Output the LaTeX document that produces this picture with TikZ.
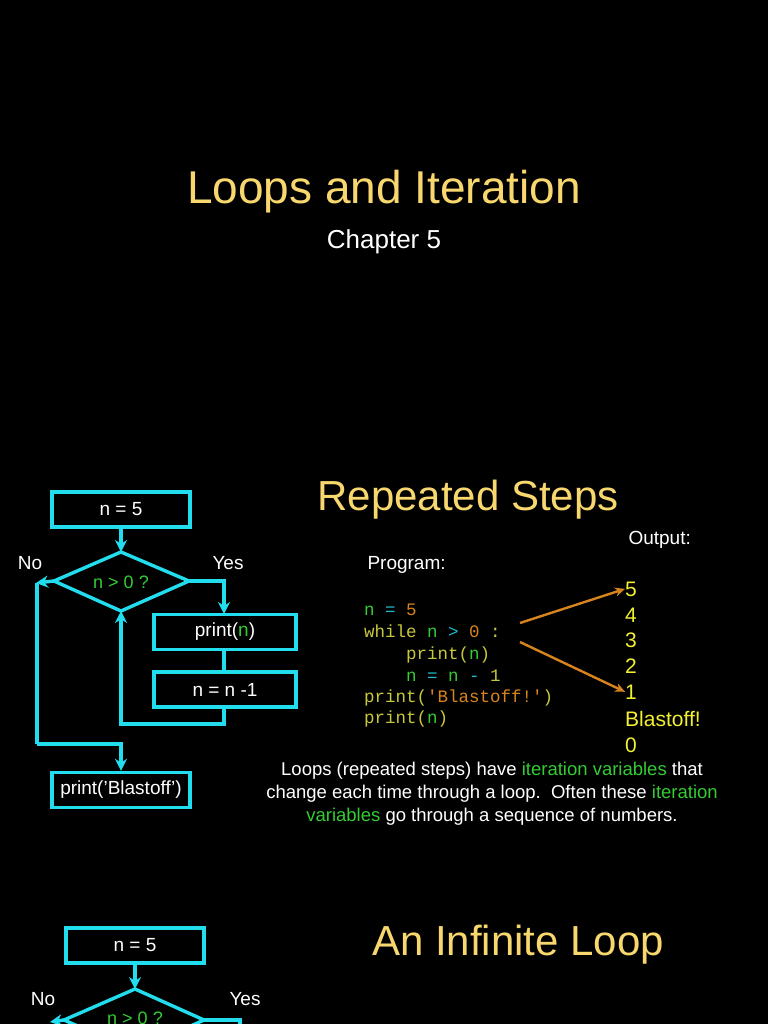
\documentclass[tikz,border=0pt]{standalone}
\usepackage{fontspec}
\setmainfont{Liberation Sans}
\setmonofont{Liberation Mono}
\usetikzlibrary{arrows.meta}
\definecolor{cy}{HTML}{22DDEE}
\definecolor{ttl}{HTML}{F8D86E}
\definecolor{yel}{HTML}{F2F030}
\definecolor{grn}{HTML}{33CC33}
\definecolor{org}{HTML}{D8841E}
\definecolor{cyl}{HTML}{C8C83C}
\definecolor{cblue}{HTML}{22BBCC}
\begin{document}
\begin{tikzpicture}[x=1pt,y=-1pt,
  box/.style={draw=cy,line width=3.4pt,minimum width=138pt,minimum height=35pt,inner sep=0pt,text=white,font=\fontsize{19}{19}\selectfont},
  flow/.style={draw=cy,line width=3.4pt},
  arr/.style={flow,-{Stealth[length=12pt,width=12pt]}},
  lbl/.style={text=white,font=\fontsize{19}{19}\selectfont},
  code/.style={anchor=base west,font=\ttfamily\fontsize{17.5}{17.5}\selectfont,inner sep=0pt}]
\fill[black] (0,0) rectangle (768,1024);
\clip (0,0) rectangle (768,1024);
\useasboundingbox (0,0) rectangle (768,1024);
\node[text=ttl,font=\fontsize{46}{46}\selectfont] (title) at (384,192) {Loops and Iteration};
\node[text=white,font=\fontsize{26}{26}\selectfont] (chap) at (384,242) {Chapter 5};
\node[text=ttl,font=\fontsize{42}{42}\selectfont] (rs) at (468,500) {Repeated Steps};
\node[text=ttl,font=\fontsize{42}{42}\selectfont] (il) at (518,945) {An Infinite Loop};
% flowchart 1
\node[box] (a) at (121,509.5) {n = 5};
\draw[flow] (54,581) coordinate (dl) -- (121,552) coordinate (dt) -- (189,581) coordinate (dr) -- (121,611) coordinate (db) -- cycle;
\node[text=grn,font=\fontsize{18}{18}\selectfont] (q) at (121,582) {n > 0 ?};
\node[box,minimum width=142pt] (p) at (225,632) {print(\textcolor{grn}{n})};
\node[box,minimum width=142pt] (m) at (225,689.5) {n = n -1};
\node[box] (b) at (121,790) {print('Blastoff')};
\node[lbl] (no) at (30,563) {No};
\node[lbl] (yes) at (228,563) {Yes};
\draw[arr] (a.south) -- (dt);
\draw[arr] (dr) -- (224,581) -- (224,614);
\draw[flow] (p.south -| 224,0) -- (m.north -| 224,0);
\draw[arr] (m.south -| 224,0) -- (224,724) -- (121,724) -- (db);
\draw[arr] (dl) -- (36,583);
\draw[flow] (37,583) -- (37,744);
\draw[arr] (37,744) -- (121,744) -- (b.north);
% code
\node[lbl,anchor=base west] (prog) at (364,569) {Program:};
\node[code] (c1) at (364,615) {\textcolor{grn}{n} \textcolor{cblue}{=} \textcolor{org}{5}};
\node[code] (c2) at (364,637) {\textcolor{cyl}{while} \textcolor{grn}{n} \textcolor{cblue}{>} \textcolor{org}{0} \textcolor{cyl}{:}};
\node[code] (c3) at (364,659) {\phantom{n = }\textcolor{cyl}{print(}\textcolor{grn}{n}\textcolor{cyl}{)}};
\node[code] (c4) at (364,681) {\phantom{n = }\textcolor{grn}{n} \textcolor{cblue}{=} \textcolor{grn}{n} \textcolor{cblue}{-} \textcolor{cyl}{1}};
\node[code] (c5) at (364,702) {\textcolor{cyl}{print(}\textcolor{org}{'Blastoff!'}\textcolor{cyl}{)}};
\node[code] (c6) at (364,723) {\textcolor{cyl}{print(}\textcolor{grn}{n}\textcolor{cyl}{)}};
% output
\node[lbl,anchor=base west] (out) at (625,544) {Output:};
\begin{scope}[every node/.style={text=yel,font=\fontsize{21}{21}\selectfont,anchor=base west,inner sep=0pt}]
\node (o5) at (625,596) {5};
\node (o4) at (625,622) {4};
\node (o3) at (625,647) {3};
\node (o2) at (625,673) {2};
\node (o1) at (625,699) {1};
\node (ob) at (625,726) {Blastoff!};
\node (o0) at (625,752) {0};
\end{scope}
\coordinate (s1) at (520,623);
\coordinate (s2) at (520,642);
\draw[org,line width=2.4pt,-{Stealth[length=10pt,width=9pt]}] (s1) -- (o5.west);
\draw[org,line width=2.4pt,-{Stealth[length=10pt,width=9pt]}] (s2) -- (o1.west);
\node[text=white,font=\fontsize{18.5}{23}\selectfont,align=center] (para) at (492,794)
 {Loops (repeated steps) have \textcolor{grn}{iteration variables} that\\
  change each time through a loop.\ \ Often these \textcolor{grn}{iteration}\\
  \textcolor{grn}{variables} go through a sequence of numbers.};
% flowchart 2
\node[box] (a2) at (135,945.5) {n = 5};
\draw[flow] (64,1020) coordinate (dl2) -- (135,989) coordinate (dt2) -- (204,1020) coordinate (dr2) -- (135,1051) -- cycle;
\node[text=grn,font=\fontsize{18}{18}\selectfont] (q2) at (135,1018) {n > 0 ?};
\node[lbl] (no2) at (43,999) {No};
\node[lbl] (yes2) at (245,999) {Yes};
\draw[arr] (a2.south) -- (dt2);
\draw[flow] (dr2) -- (240,1020) -- (240,1030);
\draw[arr] (dl2) -- (50,1022);
\end{tikzpicture}
\end{document}
